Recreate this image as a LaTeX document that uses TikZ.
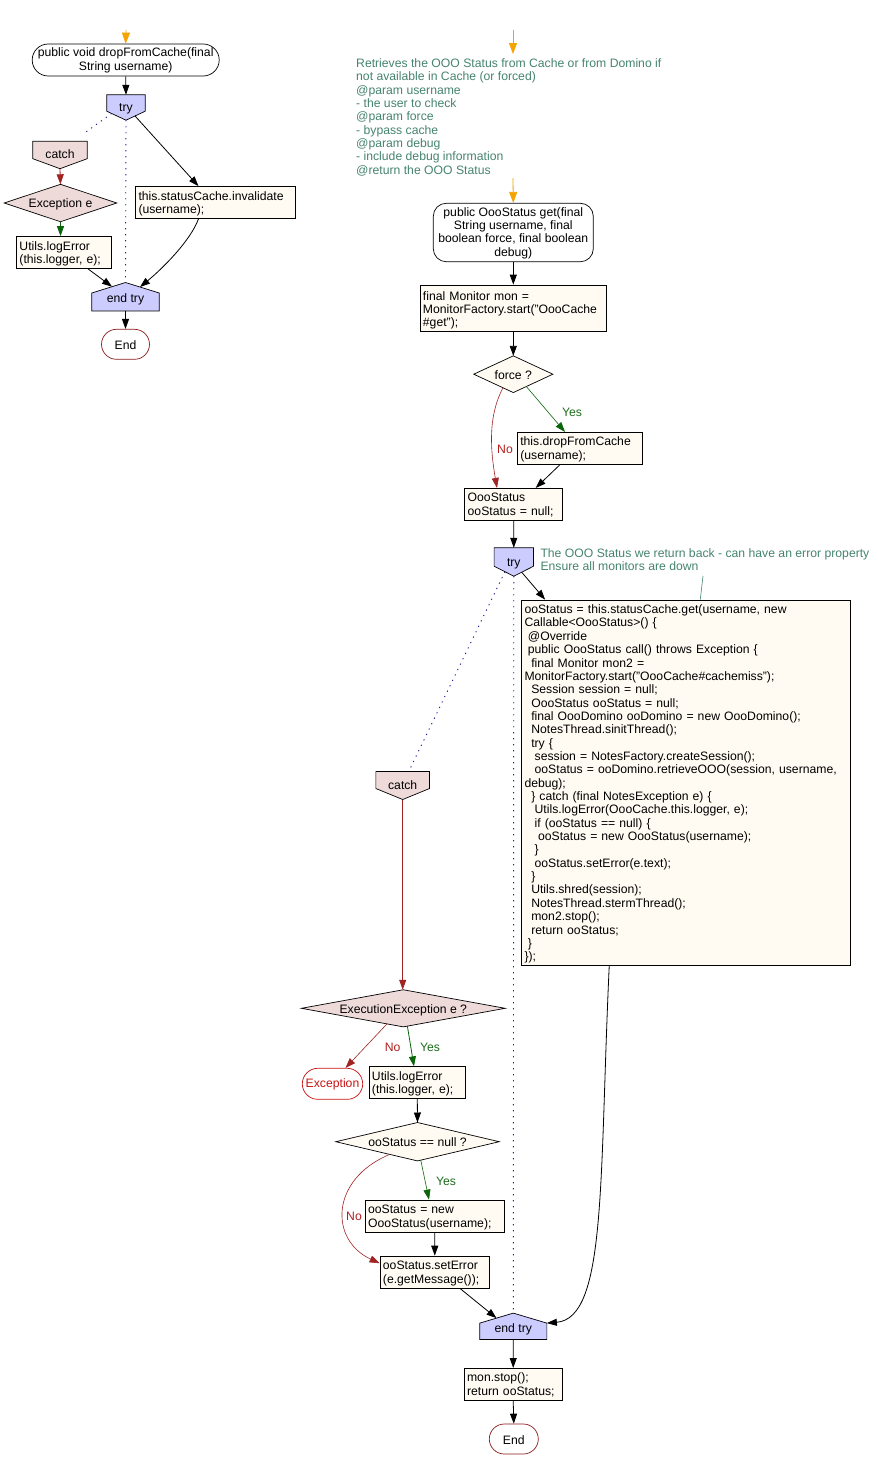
\documentclass[tikz,border=0pt]{standalone}
\usepackage{fontspec}
\setmainfont{Liberation Sans}
\usetikzlibrary{arrows.meta,calc,backgrounds}
\definecolor{cream}{HTML}{FFFAF2}
\definecolor{lav}{HTML}{CCCCFF}
\definecolor{rose}{HTML}{EFDADA}
\definecolor{darkred}{HTML}{A02424}
\definecolor{nored}{HTML}{B41E1E}
\definecolor{errred}{HTML}{C81414}
\definecolor{endred}{HTML}{8C1C1C}
\definecolor{yesgreen}{HTML}{1E6E1E}
\definecolor{arrgreen}{HTML}{0A640A}
\definecolor{note}{HTML}{468470}
\definecolor{dotblue}{HTML}{1E1E96}
\definecolor{startorange}{HTML}{F5A300}
% indentation by a number of word spaces
\newcommand{\ind}[1]{\hspace*{#1\fontdimen2\font}}
% left aligned / centred blocks of lines that never rewrap
\newcommand{\rows}[1]{\begin{tabular}{@{}l@{}}#1\end{tabular}}
\newcommand{\crows}[1]{\begin{tabular}{@{}c@{}}#1\end{tabular}}
% set text a little lower without changing its box
\newcommand{\low}[2]{\raisebox{-#1}[\height][\depth]{#2}}
% shapes drawn behind their text nodes
\newcommand{\downpent}[3]{\draw[shapeline, fill=#3] (#1.north west) -- (#1.north east) -- ([yshift=#2]#1.south east) -- (#1.south) -- ([yshift=#2]#1.south west) -- cycle;}
\newcommand{\uppent}[3]{\draw[shapeline, fill=#3] (#1.south west) -- (#1.south east) -- ([yshift=-#2]#1.north east) -- (#1.north) -- ([yshift=-#2]#1.north west) -- cycle;}
\newcommand{\drawrhombus}[2]{\draw[shapeline, fill=#2] (#1.north) -- (#1.east) -- (#1.south) -- (#1.west) -- cycle;}
\tikzset{
  shapeline/.style={draw=black, line width=0.7pt},
  box/.style 2 args={draw=black, fill=cream, line width=0.7pt, inner xsep=3pt, inner ysep=0pt,
    text width=#1pt, minimum height=#2pt, align=left},
  frame/.style={inner sep=0pt},
  term/.style={draw=black, fill=white, line width=0.7pt, inner sep=0pt, align=center},
  flow/.style={line width=0.8pt, -{Triangle[length=10pt,width=7pt]}},
  startarrow/.style={startorange, line width=0.8pt, -{Triangle[length=11pt,width=8pt]}},
  dotline/.style={dotblue, line width=0.9pt, dash pattern=on 1.2pt off 4.8pt},
  noteline/.style={note, line width=0.6pt},
  notetext/.style={text=note, inner sep=0pt},
  yeslbl/.style={text=yesgreen, inner sep=1pt},
  nolbl/.style={text=nored, inner sep=1pt},
}
\begin{document}
\begin{tikzpicture}[x=1pt,y=-1pt,font=\fontsize{12.2}{13.35}\selectfont]
\useasboundingbox (0,0) rectangle (878,1468);

% ---------- dropFromCache ----------
\coordinate (o1) at (126,30);
\node[term, minimum width=187pt, minimum height=32pt, rounded corners=16pt] (s1) at (125.7,60) {\low{1pt}{\crows{public void dropFromCache(final\\String username)}}};
\node[frame, minimum width=38pt, minimum height=25pt] (try1) at (126,107.5) {\low{1.5pt}{try}};
\node[frame, minimum width=54pt, minimum height=27pt] (catch1) at (60,155) {\low{-1pt}{catch}};
\node[frame, minimum width=112pt, minimum height=37pt] (dE) at (60.5,203) {\low{1.5pt}{Exception e}};
\node[box={89}{32}] (u1) at (64,252.5) {\low{2pt}{\rows{Utils.logError\\(this.logger, e);}}};
\node[box={154}{32}] (inv) at (215.5,202.5) {\low{2pt}{\rows{this.statusCache.invalidate\\(username);}}};
\node[frame, minimum width=67pt, minimum height=28pt] (et1) at (125.5,296.7) {\low{3pt}{end try}};
\node[term, draw=endred, minimum width=48pt, minimum height=30pt, rounded corners=15pt] (end1) at (125.5,344.3) {\low{1pt}{End}};

% ---------- get ----------
\coordinate (o2) at (513,30);
\coordinate (o2e) at (513,54);
\node[notetext, anchor=base west] (cmt1) at (356,67.5) {\begin{tabular}[t]{@{}l@{}}Retrieves the OOO Status from Cache or from Domino if\\not available in Cache (or forced)\\@param username\\- the user to check\\@param force\\- bypass cache\\@param debug\\- include debug information\\@return the OOO Status\end{tabular}};
\coordinate (o3) at (513,178);
\node[term, minimum width=160pt, minimum height=58.5pt, rounded corners=13pt] (s2) at (513.3,232.5) {\low{1pt}{\crows{public OooStatus get(final\\String username, final\\boolean force, final boolean\\debug)}}};
\node[box={180.7}{46.7}] (mon) at (513.3,308.3) {\low{2.5pt}{\rows{final Monitor mon =\\MonitorFactory.start("OooCache\\\#get");}}};
\node[frame, minimum width=78.7pt, minimum height=36.3pt] (force) at (513.3,374.2) {\low{0.5pt}{force ?}};
\node[box={119.4}{32}] (drop) at (580,448.3) {\low{1.5pt}{\rows{this.dropFromCache\\(username);}}};
\node[box={92}{32}] (oos) at (513.7,504.3) {\low{1.5pt}{\rows{OooStatus\\ooStatus = null;}}};
\node[frame, minimum width=39pt, minimum height=28pt] (try2) at (513.8,562) {\low{1.5pt}{try}};
\node[notetext, anchor=base west] (cmt2) at (540.3,557.5) {\begin{tabular}[t]{@{}l@{}}The OOO Status we return back - can have an error property\\Ensure all monitors are down\end{tabular}};
\coordinate (c2tail) at (703,576);
\node[box={322.5}{365}] (big) at (685.75,782.5) {\low{2pt}{\rows{%
ooStatus = this.statusCache.get(username, new\\
Callable<OooStatus>() \{\\
\ind{1}@Override\\
\ind{1}public OooStatus call() throws Exception \{\\
\ind{2}final Monitor mon2 =\\
MonitorFactory.start("OooCache\#cachemiss");\\
\ind{2}Session session = null;\\
\ind{2}OooStatus ooStatus = null;\\
\ind{2}final OooDomino ooDomino = new OooDomino();\\
\ind{2}NotesThread.sinitThread();\\
\ind{2}try \{\\
\ind{3}session = NotesFactory.createSession();\\
\ind{3}ooStatus = ooDomino.retrieveOOO(session, username,\\
debug);\\
\ind{2}\} catch (final NotesException e) \{\\
\ind{3}Utils.logError(OooCache.this.logger, e);\\
\ind{3}if (ooStatus == null) \{\\
\ind{4}ooStatus = new OooStatus(username);\\
\ind{3}\}\\
\ind{3}ooStatus.setError(e.text);\\
\ind{2}\}\\
\ind{2}Utils.shred(session);\\
\ind{2}NotesThread.stermThread();\\
\ind{2}mon2.stop();\\
\ind{2}return ooStatus;\\
\ind{1}\}\\
\});}}};
\node[frame, minimum width=53.3pt, minimum height=27.6pt] (catch2) at (402.7,785.5) {\low{-0.5pt}{catch}};
\node[frame, minimum width=203.3pt, minimum height=36.7pt] (dEE) at (403.3,1008.3) {\low{2pt}{ExecutionException e ?}};
\node[term, draw=errred, text=errred, minimum width=60.4pt, minimum height=31pt, rounded corners=15.5pt] (exc) at (332.5,1083.8) {\low{1pt}{Exception}};
\node[box={90.7}{31.6}] (u2) at (417.3,1082.5) {\low{1.5pt}{\rows{Utils.logError\\(this.logger, e);}}};
\node[frame, minimum width=163pt, minimum height=38pt] (dN) at (417.5,1141.7) {\low{0.5pt}{ooStatus == null ?}};
\node[box={133.3}{32.7}] (newS) at (434.7,1216.3) {\low{1.5pt}{\rows{ooStatus = new\\OooStatus(username);}}};
\node[box={103.7}{32.3}] (setE) at (434.8,1272.2) {\low{1.5pt}{\rows{ooStatus.setError\\(e.getMessage());}}};
\node[frame, minimum width=66.7pt, minimum height=26pt] (et2) at (513.3,1326.3) {\low{3.5pt}{end try}};
\node[box={92.3}{31.7}] (stop) at (513.2,1384.2) {\low{1.5pt}{\rows{mon.stop();\\return ooStatus;}}};
\node[term, draw=endred, minimum width=49pt, minimum height=30pt, rounded corners=15pt] (end2) at (513.8,1439) {\low{1pt}{End}};

% branch labels
\node[yeslbl] (y1) at (572,412.7) {Yes};
\node[nolbl] (n1) at (505,449) {No};
\node[nolbl] (n2) at (392.7,1047.3) {No};
\node[yeslbl] (y2) at (430,1047.3) {Yes};
\node[yeslbl] (y3) at (446,1181) {Yes};
\node[nolbl] (n3) at (354,1216.7) {No};

% shapes behind the texts
\begin{scope}[on background layer]
\fill[white] (0,0) rectangle (878,1468);
\downpent{try1}{9pt}{lav}
\downpent{catch1}{10pt}{rose}
\drawrhombus{dE}{rose}
\uppent{et1}{10.5pt}{lav}
\drawrhombus{force}{cream}
\downpent{try2}{10pt}{lav}
\downpent{catch2}{11pt}{rose}
\drawrhombus{dEE}{rose}
\drawrhombus{dN}{cream}
\uppent{et2}{10pt}{lav}
\end{scope}

% connectors: dropFromCache
\draw[startarrow] (o1) -- (s1.north);
\draw[flow] (s1.south) -- (try1.north);
\draw[dotline] ($(try1.south)!0.75!([yshift=9pt]try1.south west)$) -- ([shift={(-3pt,8pt)}]catch1.north east);
\draw[dotline] (try1.south) -- (et1.north);
\draw[flow] ($(try1.south)!0.47!([yshift=9pt]try1.south east)$) -- ([xshift=-17pt]inv.north);
\draw[flow, darkred] (catch1.south) -- (dE.north);
\draw[flow, arrgreen] (dE.south) -- (dE.south |- u1.north);
\draw[flow] ([xshift=24pt]u1.south) -- ($([yshift=-10.5pt]et1.north west)!0.6!(et1.north)$);
\draw[flow] ([xshift=-17pt]inv.south) .. controls +(-8,22) and +(22,-18) .. ($(et1.north)!0.43!([yshift=-10.5pt]et1.north east)$);
\draw[flow] (et1.south) -- (end1.north);

% connectors: get
\draw[startarrow] (o2) -- (o2e);
\draw[startarrow] (o3) -- (s2.north);
\draw[flow] (s2.south) -- (mon.north);
\draw[flow] (mon.south) -- (force.north);
\draw[flow, arrgreen, line width=0.6pt] ($(force.south)!0.33!(force.east)$) -- ([xshift=-15pt]drop.north);
\draw[flow, darkred, line width=0.6pt] ($(force.south)!0.26!(force.west)$) .. controls +(-16,30) and +(-6,-35) .. ([xshift=-16.7pt]oos.north);
\draw[flow] ([xshift=-20pt]drop.south) -- ([xshift=22pt]oos.north);
\draw[flow] (oos.south) -- (try2.north);
\draw[flow] ($(try2.south)!0.4!([yshift=10pt]try2.south east)$) -- ([xshift=24pt]big.north west);
\draw[dotline] ($(try2.south)!0.45!([yshift=10pt]try2.south west)$) -- ([shift={(7pt,2pt)}]catch2.north);
\draw[dotline] (try2.south) -- (et2.north);
\draw[noteline] (c2tail) -- ([xshift=14.5pt]big.north);
\draw[flow, darkred] (catch2.south) -- (catch2.south |- dEE.north);
\draw[flow, darkred, line width=0.6pt] ($(dEE.south)!0.16!(dEE.west)$) -- ([xshift=13pt]exc.north);
\draw[flow, arrgreen] ($(dEE.south)!0.04!(dEE.east)$) -- ([xshift=-3.3pt]u2.north);
\draw[flow] (u2.south) -- (dN.north);
\draw[flow, arrgreen, line width=0.6pt] ($(dN.south)!0.04!(dN.east)$) -- ([xshift=-5.7pt]newS.north);
\draw[flow, darkred, line width=0.6pt] ($(dN.south)!0.34!(dN.west)$) .. controls +(-60,25) and +(-50,-23) .. ([yshift=9pt]setE.west);
\draw[flow] (newS.south) -- (setE.north);
\draw[flow] ([xshift=25.5pt]setE.south) -- ($([yshift=-10pt]et2.north west)!0.5!(et2.north)$);
\draw[flow] ([xshift=-76.5pt]big.south) .. controls +(-10,215) and +(60,-5) .. ([yshift=-10pt]et2.north east);
\draw[flow] (et2.south) -- (stop.north);
\draw[flow] (stop.south) -- (end2.north);
\end{tikzpicture}
\end{document}
